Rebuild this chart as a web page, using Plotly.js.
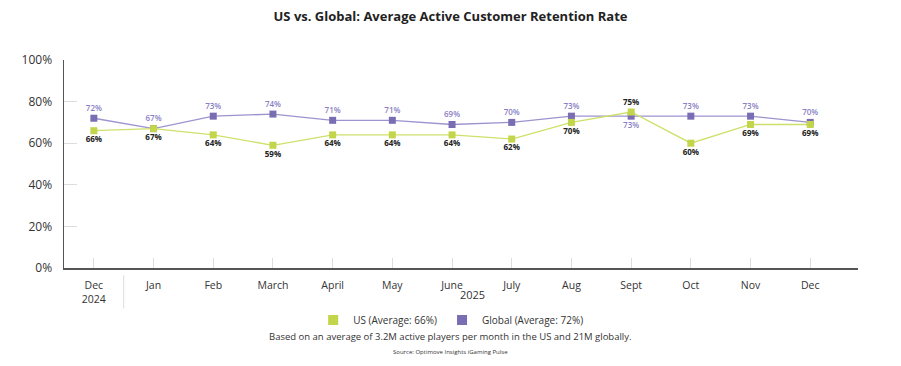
<!DOCTYPE html>
<html><head><meta charset="utf-8">
<script src="https://cdn.plot.ly/plotly-3.0.1.min.js"></script>
<style>body{margin:0;background:#fff}#c{width:901px;height:366px}</style>
</head><body><div id="c"></div>
<script>
const months = ["Dec<br>2024","Jan","Feb","March","April","May","June","July","Aug","Sept","Oct","Nov","Dec"];
const usValues = [66,67,64,59,64,64,64,62,70,75,60,69,69];
const globalValues = [72,67,73,74,71,71,69,70,73,73,73,73,70];
const yTicks = [0,20,40,60,80,100];
const yTickText = ["0%","20%","40%","60%","80%","100%"];
const usPos = ["bottom center","bottom center","bottom center","bottom center","bottom center","bottom center","bottom center","bottom center","bottom center","top center","bottom center","bottom center","bottom center"];
const glPos = ["top center","top center","top center","top center","top center","top center","top center","top center","top center","bottom center","top center","top center","top center"];
const yearLabel = "2025";
const usName = "US (Average: 66%)";
const glName = "Global (Average: 72%)";

const idx = months.map((_, i) => i);
const green = "#c3d54a", purple = "#7a6db4";
const FONT = "Open Sans, Lato, sans-serif";

const traces = [
  {x: idx, y: globalValues, mode: "lines+markers+text", showlegend: false,
   line: {color: "#9d93cf", width: 1.3}, marker: {symbol: "square", size: 7, color: purple},
   text: globalValues.map(v => v + "%"), textposition: glPos,
   textfont: {family: FONT, size: 8, color: "#8a7fc5", weight: 600}, cliponaxis: false, hoverinfo: "skip"},
  {x: idx, y: usValues, mode: "lines+markers+text", showlegend: false,
   line: {color: "#cfe06a", width: 1.3}, marker: {symbol: "square", size: 7, color: green},
   text: usValues.map(v => v + "%"), textposition: usPos,
   textfont: {family: FONT, size: 8, color: "#222", weight: 700}, cliponaxis: false, hoverinfo: "skip"},
  {x: [null], y: [null], mode: "markers", name: usName, marker: {symbol: "square", size: 10, color: green}},
  {x: [null], y: [null], mode: "markers", name: glName, marker: {symbol: "square", size: 10, color: purple}}
];

const layout = {
  width: 901, height: 366,
  margin: {l: 64, r: 43, t: 60, b: 98, autoexpand: false},
  paper_bgcolor: "#fff", plot_bgcolor: "#fff",
  font: {family: FONT, color: "#222"},
  title: {text: "<b>US vs. Global: Average Active Customer Retention Rate</b>", x: 0.5, xanchor: "center", y: 0.955, yanchor: "middle",
          font: {family: FONT, size: 13, color: "#222"}},
  xaxis: {range: [-0.5, 12.8], tickvals: idx, ticktext: months, showgrid: false, zeroline: false,
          showline: true, linecolor: "#555", linewidth: 1.5, ticks: "inside", ticklen: 10, tickcolor: "#ddd", tickwidth: 1,
          ticklabelstandoff: 7,
          tickfont: {family: FONT, size: 10.5, color: "#333"}, fixedrange: true},
  yaxis: {range: [0, 100], tickvals: yTicks, ticktext: yTickText, showgrid: false, zeroline: false,
          showline: true, linecolor: "#555", linewidth: 1.5, ticks: "inside", ticklen: 13, tickcolor: "#ddd", tickwidth: 1,
          ticklabelstandoff: 8,
          tickfont: {family: FONT, size: 12, color: "#333"}, fixedrange: true},
  showlegend: true,
  legend: {orientation: "h", x: 0.487, xanchor: "center", y: -0.25, yanchor: "middle",
           font: {family: FONT, size: 10, color: "#333"}, tracegroupgap: 0},
  shapes: [
    {type: "line", xref: "x", yref: "paper", x0: 0.5, x1: 0.5, y0: -0.035, y1: -0.195, line: {color: "#ddd", width: 1}}
  ],
  annotations: [
    {text: yearLabel, xref: "x", yref: "paper", x: 6.35, y: -0.128, yanchor: "middle", showarrow: false, font: {family: FONT, size: 11, color: "#333"}},
    {text: "Based on an average of 3.2M active players per month in the US and 21M globally.", xref: "paper", yref: "paper",
     x: 0.487, y: -0.33, xanchor: "center", yanchor: "middle", showarrow: false, font: {family: FONT, size: 9.5, color: "#333"}},
    {text: "Source: Optimove Insights iGaming Pulse", xref: "paper", yref: "paper",
     x: 0.487, y: -0.405, xanchor: "center", yanchor: "middle", showarrow: false, font: {family: FONT, size: 6, color: "#333"}}
  ]
};
Plotly.newPlot("c", traces, layout, {displayModeBar: false, staticPlot: true});
</script></body></html>
